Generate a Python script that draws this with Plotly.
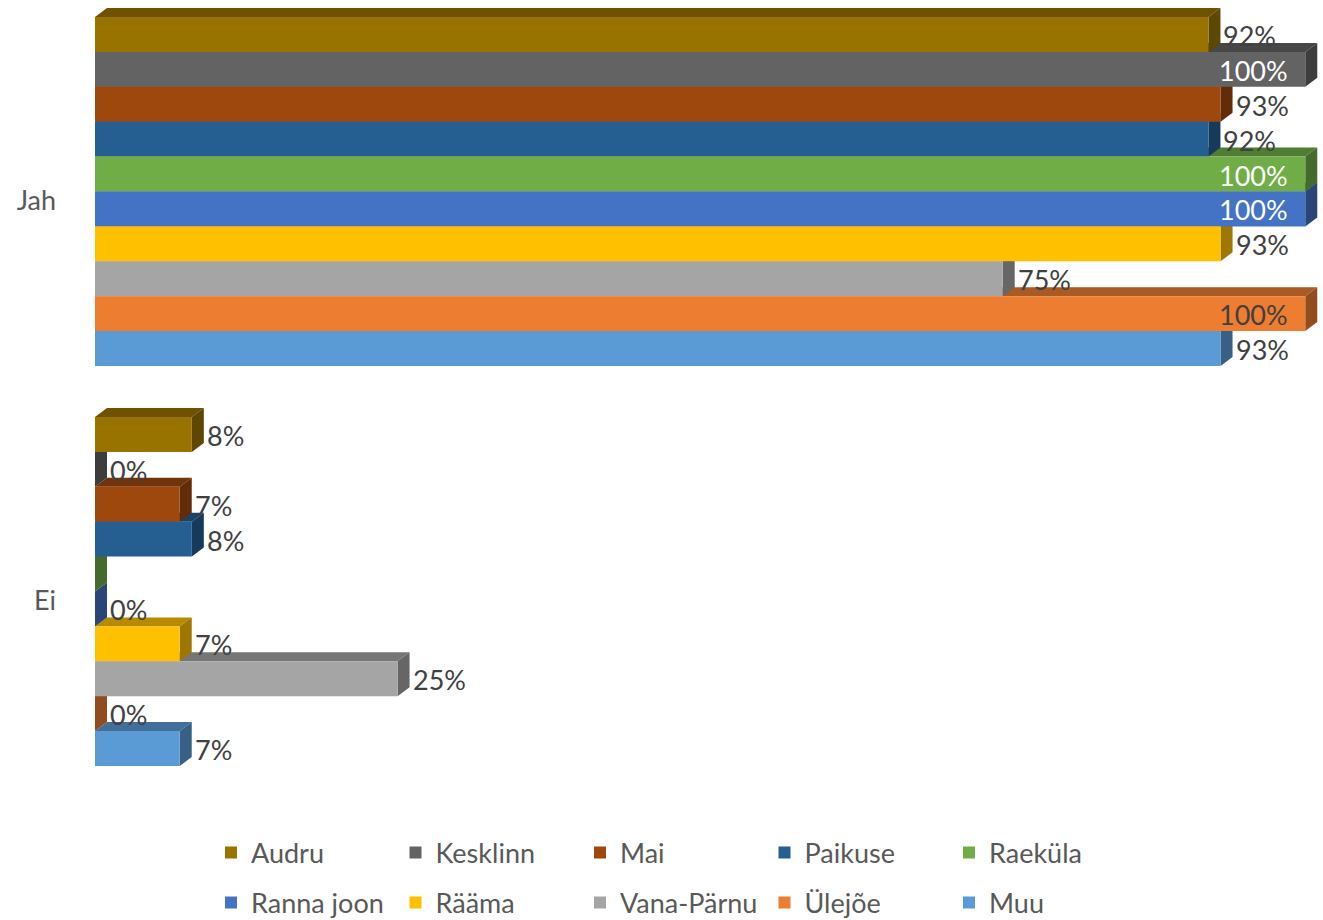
import plotly.graph_objects as go

# ---------------- data ----------------
categories = ["Jah", "Ei"]
series = ["Audru", "Kesklinn", "Mai", "Paikuse", "Raeküla",
          "Ranna joon", "Rääma", "Vana-Pärnu", "Ülejõe", "Muu"]
jah_values = [92, 100, 93, 92, 100, 100, 93, 75, 100, 93]
ei_values = [8, 0, 7, 8, 0, 0, 7, 25, 0, 7]
hidden_labels = [("Ei", "Raeküla")]

# ---------------- style ----------------
colors = ["#997300", "#636363", "#9E480E", "#255E91", "#70AD47",
          "#4472C4", "#FFC000", "#A5A5A5", "#ED7D31", "#5B9BD5"]
white_labels = [("Jah", "Kesklinn"), ("Jah", "Raeküla"), ("Jah", "Ranna joon")]
FONT = "Lato"
LABEL_COLOR = "#404040"
AXIS_COLOR = "#595959"
FS = 27

W, H = 1323, 920
ML, MR, MT, MB = 95, 2, 4, 120
XMAX = 101.3
plot_w = W - ML - MR
plot_h = H - MT - MB
px_per_x = plot_w / XMAX
px_per_y = 400.0
y_top_val = -187.5 / px_per_y
y_bot_val = y_top_val + plot_h / px_per_y
BARGAP = 1 - 349 / 400
DEPTH_PX_X, DEPTH_PX_Y = 12, 9


def darker(hexc, f=0.72):
    h = hexc.lstrip("#")
    r, g, b = (int(h[i:i + 2], 16) for i in (0, 2, 4))
    return "#%02x%02x%02x" % (int(r * f), int(g * f), int(b * f))


values_by_cat = [jah_values, ei_values]
ypos = list(range(len(categories)))

fig = go.Figure()
for i, name in enumerate(series):
    fig.add_trace(go.Bar(
        y=ypos, x=[vals[i] for vals in values_by_cat], name=name,
        orientation="h", marker=dict(color=colors[i], line=dict(width=0)),
        legend="legend" if i < 5 else "legend2", hoverinfo="skip",
    ))

# 3D faces and labels
n = len(series)
Wg = 1 - BARGAP
bh = Wg / n
dx = DEPTH_PX_X / px_per_x
dy = DEPTH_PX_Y / px_per_y
shapes = []
annotations = []
for c, cat in enumerate(categories):
    vals = values_by_cat[c]
    for i in range(n - 1, -1, -1):
        v = vals[i]
        yt = c - Wg / 2 + i * bh
        yb = yt + bh
        col = darker(colors[i])
        if v > 0:
            shapes.append(dict(type="path", xref="x", yref="y", layer="below",
                               path=f"M0,{yt} L{dx},{yt-dy} L{v+dx},{yt-dy} L{v},{yt} Z",
                               fillcolor=col, line=dict(width=0)))
        shapes.append(dict(type="path", xref="x", yref="y", layer="below",
                           path=f"M{v},{yt} L{v+dx},{yt-dy} L{v+dx},{yb-dy} L{v},{yb} Z",
                           fillcolor=darker(colors[i], 0.62), line=dict(width=0)))
    for i in range(n):
        v = vals[i]
        if (cat, series[i]) in hidden_labels:
            continue
        yc = c - Wg / 2 + (i + 0.5) * bh
        fcol = "white" if (cat, series[i]) in white_labels else LABEL_COLOR
        if v >= 100:
            annotations.append(dict(x=v, y=yc, xref="x", yref="y", text=f"{v}%",
                                    showarrow=False, xanchor="right", yanchor="middle",
                                    xshift=-15, yshift=-1,
                                    font=dict(family=FONT, size=FS, color=fcol)))
        else:
            annotations.append(dict(x=v, y=yc, xref="x", yref="y", text=f"{v}%",
                                    showarrow=False, xanchor="left", yanchor="middle",
                                    xshift=DEPTH_PX_X + 1, yshift=-1,
                                    font=dict(family=FONT, size=FS, color=fcol)))

leg_common = dict(orientation="h", entrywidth=139.5, entrywidthmode="pixels",
                  xref="container", yref="container",
                  xanchor="left", yanchor="middle", bgcolor="rgba(0,0,0,0)",
                  font=dict(family=FONT, size=FS, color=AXIS_COLOR),
                  traceorder="normal")
lx = 211 / W
fig.update_layout(
    width=W, height=H, barmode="group", bargap=BARGAP, bargroupgap=0,
    margin=dict(l=ML, r=MR, t=MT, b=MB, autoexpand=False),
    paper_bgcolor="white", plot_bgcolor="white",
    font=dict(family=FONT, size=FS, color=AXIS_COLOR),
    xaxis=dict(range=[0, XMAX], visible=False, showgrid=False, zeroline=False),
    yaxis=dict(range=[y_bot_val, y_top_val], tickvals=ypos, ticktext=categories,
               showgrid=False, zeroline=False, showline=False, ticks="",
               ticklabelstandoff=38, ticklabelshift=-9, automargin=False,
               tickfont=dict(family=FONT, size=FS, color=AXIS_COLOR)),
    legend=dict(x=lx, y=(H - 853) / H, **leg_common),
    legend2=dict(x=lx, y=(H - 903) / H, **leg_common),
    shapes=shapes, annotations=annotations, showlegend=True,
)

fig.write_html("out.html")
